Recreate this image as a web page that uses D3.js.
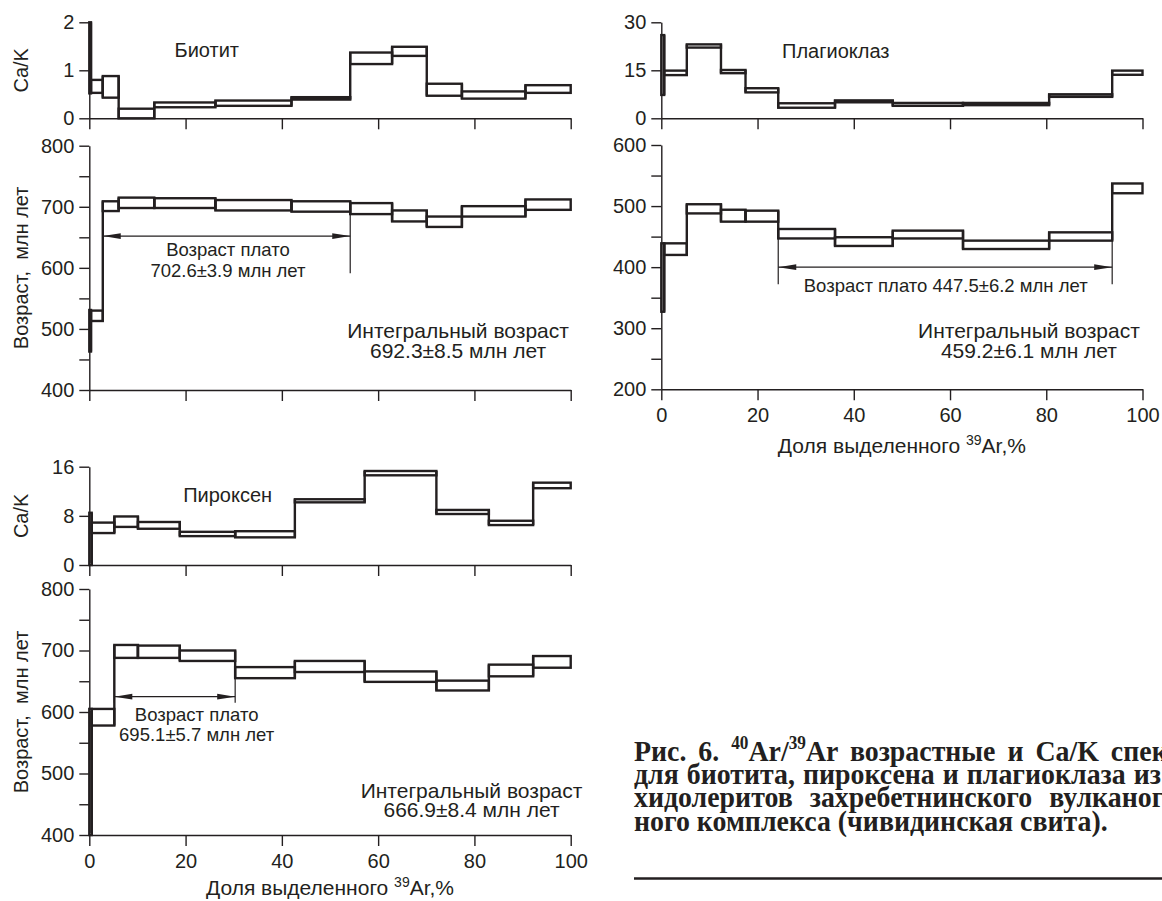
<!DOCTYPE html>
<html lang="ru">
<head>
<meta charset="utf-8">
<title>Ar/Ar spectra</title>
<script src="https://d3js.org/d3.v7.min.js"></script>
<style>
  body { margin: 0; background: #fff; }
  svg text { font-family: "Liberation Sans", Arial, sans-serif; fill: #231f20; }
  .axis path, .axis line { stroke: #231f20; stroke-width: 1.4px; }
  .axis text { font-size: 20px; }
  .step { fill: none; stroke: #231f20; stroke-width: 2.4px; }
  .thin { stroke: #231f20; stroke-width: 1.2px; }
  .caption { font-family: "Liberation Serif", "Times New Roman", serif; font-weight: bold; }
</style>
</head>
<body>
<div id="chart"></div>
<script>
// step boundaries, % of released 39Ar
var bioBounds = [0, 0.35, 2.8, 6.1, 13.5, 26.2, 42.0, 54.2, 62.9, 70.1, 77.4, 90.6, 100];
var bioCaKLo  = [0.52, 0.53, 0.43, 0, 0.23, 0.26, 0.39, 1.13, 1.30, 0.47, 0.41, 0.53];
var bioCaKHi  = [2.0, 0.80, 0.88, 0.20, 0.33, 0.37, 0.44, 1.37, 1.49, 0.72, 0.56, 0.69];
var bioAgeLo  = [463, 513, 693, 698, 698, 694, 692, 688, 676, 667, 684, 695];
var bioAgeHi  = [531, 530, 709, 715, 714, 711, 709, 706, 694, 684, 701, 712];

var plagBounds = [0, 0.6, 5.3, 12.4, 17.5, 24.3, 36.1, 48.1, 62.7, 80.6, 93.7, 100];
var plagCaKLo  = [7.3, 13.5, 22.1, 14.1, 8.1, 3.3, 5.0, 3.9, 4.1, 6.7, 13.6];
var plagCaKHi  = [26.0, 14.9, 23.1, 15.1, 9.4, 4.7, 5.6, 4.8, 4.8, 7.5, 14.9];
var plagAgeLo  = [327, 420, 488, 474.5, 474.5, 447, 434.7, 447, 429.7, 443.4, 521];
var plagAgeHi  = [439, 439, 503, 494, 492.5, 462.5, 449, 459.8, 443.4, 457, 537];

var pyxBounds = [0, 0.5, 5.2, 10.1, 18.8, 30.3, 42.7, 57.2, 72.1, 83.0, 92.2, 100];
var pyxCaKLo  = [0, 5.2, 6.2, 5.9, 4.7, 4.5, 10.2, 14.6, 8.3, 6.5, 12.5];
var pyxCaKHi  = [8.5, 6.9, 7.9, 7.0, 5.4, 5.5, 10.7, 15.3, 8.96, 7.2, 13.4];
var pyxAgeLo  = [400, 578, 688, 688, 683, 655, 665, 649, 635, 658, 672];
var pyxAgeHi  = [605, 605, 709, 708, 700, 673, 683, 666, 651, 677, 691];

// plateau ranges (% 39Ar)
var bioPlateau = [2.8, 54.2];
var plagPlateau = [24.3, 93.7];
var pyxPlateau = [5.2, 30.3];

var xTicks = [0, 20, 40, 60, 80, 100];

var W = 1162, H = 901;
var svg = d3.select("#chart").append("svg").attr("width", W).attr("height", H);
svg.append("rect").attr("width", W).attr("height", H).attr("fill", "#fff");

function drawPanel(cfg) {
  var g = svg.append("g").attr("transform", "translate(" + cfg.left + "," + cfg.top + ")");
  var x = d3.scaleLinear().domain([0, 100]).range([0, cfg.width]);
  var y = d3.scaleLinear().domain(cfg.domain).range([cfg.height, 0]);

  g.append("g").attr("class", "axis")
    .attr("transform", "translate(0," + cfg.height + ")")
    .call(d3.axisBottom(x).tickValues(xTicks).tickSize(11).tickSizeOuter(0).tickPadding(8)
      .tickFormat(function(d) { return cfg.xLabels ? d : ""; }));

  g.append("g").attr("class", "axis")
    .call(d3.axisLeft(y).tickValues(cfg.yTicks).tickSize(10).tickSizeOuter(0).tickPadding(5)
      .tickFormat(function(d) { return cfg.yLabels.indexOf(d) >= 0 ? d : ""; }));

  // steps, each as a box from low to high value
  g.selectAll("rect.step")
    .data(cfg.lo)
    .enter()
    .append("rect")
    .attr("class", "step")
    .attr("x", function(d, i) { return x(cfg.bounds[i]); })
    .attr("width", function(d, i) { return x(cfg.bounds[i + 1]) - x(cfg.bounds[i]); })
    .attr("y", function(d, i) { return y(cfg.hi[i]); })
    .attr("height", function(d, i) { return y(d) - y(cfg.hi[i]); });

  // risers joining neighbouring steps
  g.selectAll("line.riser")
    .data(cfg.lo.slice(1))
    .enter()
    .append("line")
    .attr("class", "step")
    .attr("x1", function(d, i) { return x(cfg.bounds[i + 1]); })
    .attr("x2", function(d, i) { return x(cfg.bounds[i + 1]); })
    .attr("y1", function(d, i) { return y(Math.max(cfg.hi[i], cfg.hi[i + 1])); })
    .attr("y2", function(d, i) { return y(Math.min(cfg.lo[i], d)); });

  return { g: g, x: x, y: y };
}

function arrowHead(g, xt, yy, dir) {
  var p = [[xt, yy], [xt + dir * 18, yy - 2.8], [xt + dir * 18, yy + 2.8]];
  g.append("polygon").attr("points", p.join(" ")).attr("fill", "#231f20");
}

function plateau(p, cfg) {
  var x0 = p.x(cfg.range[0]), x1 = p.x(cfg.range[1]), ya = p.y(cfg.level);
  p.g.append("line").attr("class", "thin")
    .attr("x1", x0).attr("x2", x1).attr("y1", ya).attr("y2", ya);
  arrowHead(p.g, x0, ya, 1);
  arrowHead(p.g, x1, ya, -1);
  // end markers from the plateau step bottom down past the arrow
  cfg.range.forEach(function(r, k) {
    var i = k === 0 ? cfg.bounds.indexOf(r) : cfg.bounds.indexOf(r) - 1;
    p.g.append("line").attr("class", "thin")
      .attr("x1", p.x(r)).attr("x2", p.x(r))
      .attr("y1", p.y(cfg.lo[i])).attr("y2", p.y(cfg.end));
  });
  var cx = p.x(cfg.textAt);
  cfg.text.forEach(function(t, k) {
    p.g.append("text").attr("x", cx).attr("y", ya + cfg.dy[k])
      .attr("text-anchor", "middle").style("font-size", "18.5px").text(t);
  });
}

function integral(p, cfg, h) {
  cfg.text.forEach(function(t, k) {
    p.g.append("text").attr("x", p.x(cfg.at)).attr("y", h + cfg.dy[k])
      .attr("text-anchor", "middle").style("font-size", "21px").text(t);
  });
}

function mineral(p, name, at, yy) {
  p.g.append("text").attr("x", p.x(at)).attr("y", yy).style("font-size", "20px").text(name);
}

function yLabel(cfg, t) {
  svg.append("text")
    .attr("transform", "translate(28," + (cfg.top + cfg.height / 2) + ") rotate(-90)")
    .attr("text-anchor", "middle").style("font-size", "20px").text(t);
}

function xTitle(cfg) {
  var t = svg.append("text")
    .attr("x", cfg.left + cfg.width / 2).attr("y", cfg.top + cfg.height + cfg.titleDy)
    .attr("text-anchor", "middle").style("font-size", "21px");
  t.append("tspan").text("Доля выделенного ");
  t.append("tspan").attr("dy", -8).style("font-size", "14px").text("39");
  t.append("tspan").attr("dy", 8).text("Ar,%");
}

// ---- biotite
var bioCaKCfg = { left: 89.3, top: 22.3, width: 481.4, height: 96, domain: [0, 2],
  yTicks: [0, 1, 2], yLabels: [0, 1, 2], xLabels: false,
  bounds: bioBounds, lo: bioCaKLo, hi: bioCaKHi };
var bioAgeCfg = { left: 89.3, top: 145.7, width: 481.4, height: 244.3, domain: [400, 800],
  yTicks: d3.range(400, 801, 50), yLabels: [400, 500, 600, 700, 800], xLabels: false,
  bounds: bioBounds, lo: bioAgeLo, hi: bioAgeHi };
var bioCaK = drawPanel(bioCaKCfg);
var bioAge = drawPanel(bioAgeCfg);
mineral(bioCaK, "Биотит", 17.7, 35);
yLabel(bioCaKCfg, "Ca/K");
yLabel(bioAgeCfg, "Возраст,\u00a0 млн лет");
plateau(bioAge, { range: bioPlateau, level: 652, end: 591, bounds: bioBounds, lo: bioAgeLo,
  textAt: 28.8, text: ["Возраст плато", "702.6±3.9 млн лет"], dy: [20, 41] });
integral(bioAge, { at: 76.6, text: ["Интегральный возраст", "692.3±8.5 млн лет"], dy: [-51.7, -32.3] },
  bioAgeCfg.height);

// ---- plagioclase
var plagCaKCfg = { left: 661.3, top: 22.3, width: 481.2, height: 96, domain: [0, 30],
  yTicks: [0, 15, 30], yLabels: [0, 15, 30], xLabels: false,
  bounds: plagBounds, lo: plagCaKLo, hi: plagCaKHi };
var plagAgeCfg = { left: 661.3, top: 145, width: 481.2, height: 244.3, domain: [200, 600],
  yTicks: d3.range(200, 601, 50), yLabels: [200, 300, 400, 500, 600], xLabels: true, titleDy: 64,
  bounds: plagBounds, lo: plagAgeLo, hi: plagAgeHi };
var plagCaK = drawPanel(plagCaKCfg);
var plagAge = drawPanel(plagAgeCfg);
mineral(plagCaK, "Плагиоклаз", 25.1, 36);
xTitle(plagAgeCfg);
plateau(plagAge, { range: plagPlateau, level: 400, end: 372, bounds: plagBounds, lo: plagAgeLo,
  textAt: 59.1, text: ["Возраст плато 447.5±6.2 млн лет"], dy: [24.6] });
integral(plagAge, { at: 76.4, text: ["Интегральный возраст", "459.2±6.1 млн лет"], dy: [-51, -31.6] },
  plagAgeCfg.height);

// ---- pyroxene
var pyxCaKCfg = { left: 89.3, top: 466.7, width: 481.4, height: 98.3, domain: [0, 16],
  yTicks: [0, 8, 16], yLabels: [0, 8, 16], xLabels: false,
  bounds: pyxBounds, lo: pyxCaKLo, hi: pyxCaKHi };
var pyxAgeCfg = { left: 89.3, top: 589, width: 481.4, height: 246, domain: [400, 800],
  yTicks: d3.range(400, 801, 50), yLabels: [400, 500, 600, 700, 800], xLabels: true, titleDy: 60,
  bounds: pyxBounds, lo: pyxAgeLo, hi: pyxAgeHi };
var pyxCaK = drawPanel(pyxCaKCfg);
var pyxAge = drawPanel(pyxAgeCfg);
mineral(pyxCaK, "Пироксен", 19.5, 35);
yLabel(pyxCaKCfg, "Ca/K");
yLabel(pyxAgeCfg, "Возраст,\u00a0 млн лет");
xTitle(pyxAgeCfg);
plateau(pyxAge, { range: pyxPlateau, level: 625, end: 615, bounds: pyxBounds, lo: pyxAgeLo,
  textAt: 22.3, text: ["Возраст плато", "695.1±5.7 млн лет"], dy: [24, 44.7] });
integral(pyxAge, { at: 79.4, text: ["Интегральный возраст", "666.9±8.4 млн лет"], dy: [-36.7, -18.3] },
  pyxAgeCfg.height);

// ---- caption (runs off the right edge like the page scan)
var captionLines = [
  [["Рис. 6. "], ["40", "sup"], ["Ar/"], ["39", "sup"], ["Ar возрастные и Ca/K спектры"]],
  [["для биотита, пироксена и плагиоклаза из та-"]],
  [["хидолеритов захребетнинского вулканоген-"]],
  [["ного комплекса (чивидинская свита)."]]
];
var captionSpacing = [5, 1, 10, 0];
var capLeft = 634, capTop = 761, capStep = 23.2;

var probe = svg.append("text").attr("class", "caption").style("font-size", "22px")
  .text(captionLines[3][0][0]);
var capSize = 22 * 474 / probe.node().getComputedTextLength();
probe.remove();

captionLines.forEach(function(parts, li) {
  var t = svg.append("text").attr("class", "caption")
    .attr("transform", "translate(" + capLeft + "," + (capTop + li * capStep) + ") scale(1,1.07)")
    .attr("word-spacing", captionSpacing[li])
    .style("font-size", capSize + "px");
  var up = capSize * 0.4;
  parts.forEach(function(p, k) {
    var s = t.append("tspan").text(p[0]);
    if (p[1] === "sup") {
      s.attr("dy", -up).style("font-size", (capSize * 0.62) + "px");
    } else if (k > 0 && parts[k - 1][1] === "sup") {
      s.attr("dy", up);
    }
  });
});

svg.append("line").attr("x1", capLeft).attr("x2", W).attr("y1", 878.5).attr("y2", 878.5)
  .attr("stroke", "#231f20").attr("stroke-width", 2.5);
</script>
</body>
</html>
